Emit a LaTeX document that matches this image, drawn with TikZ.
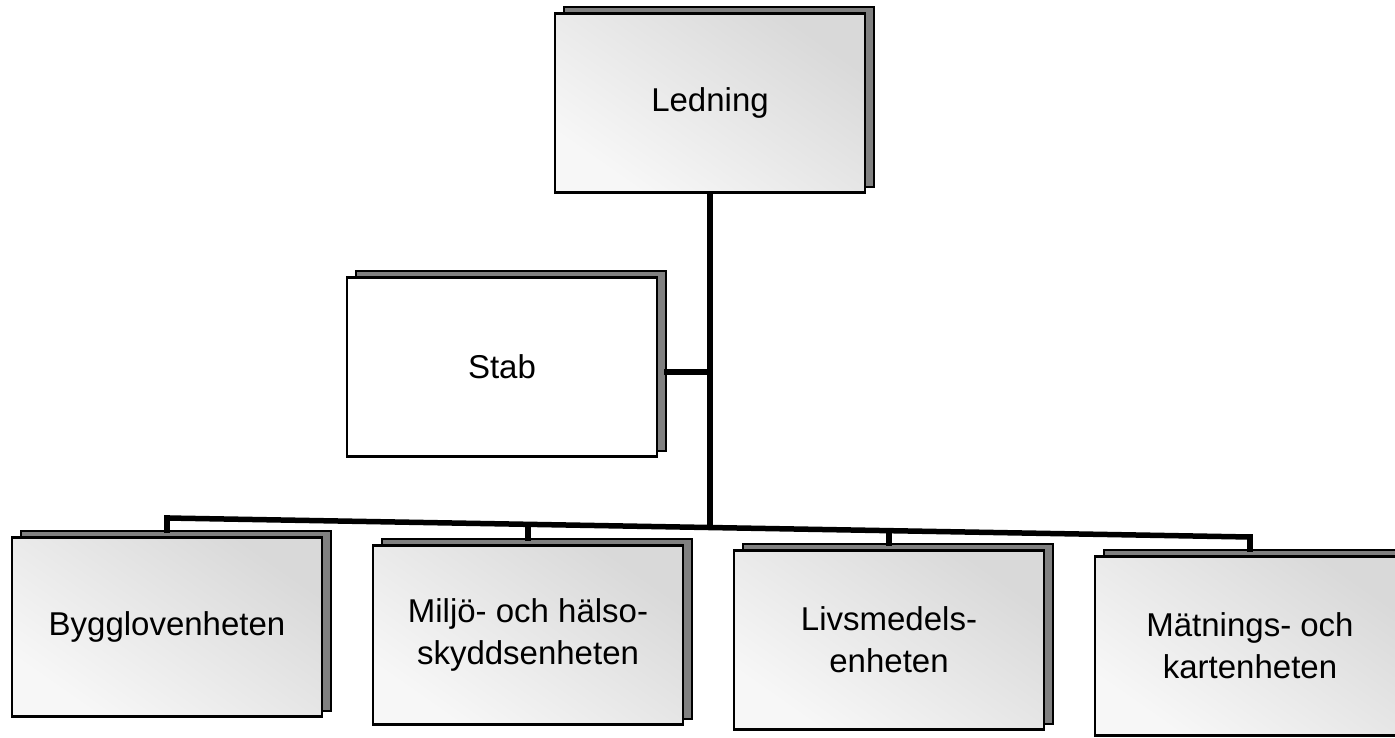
\documentclass[tikz,border=0pt]{standalone}
\usepackage{fontspec}
\setmainfont{Liberation Sans}
\usetikzlibrary{calc}
\tikzset{
  unitbox/.style={draw=black, line width=2.4pt, minimum width=310pt, minimum height=179pt,
    inner sep=0pt, align=center, font=\fontsize{33}{42}\selectfont},
  dotted fill/.style={top color=black!15, bottom color=black!3, shading angle=-35},
  backbox/.style={draw=black, line width=2pt, fill=black!50},
  wire/.style={line width=5.5pt, line cap=rect},
}
\newcommand{\unitnode}[5]{% name, x, y, text, fillstyle
  \fill[backbox] (#2-146,#3-96) rectangle (#2+164,#3+84);
  \node[unitbox, #5] (#1) at (#2,#3) {#4};
}
\begin{document}
\begin{tikzpicture}[x=1pt,y=-1pt]
\useasboundingbox (0,0) rectangle (1395,738);
\fill[white] (0,0) rectangle (1395,738);
% boxes
\unitnode{led}{710}{103}{Ledning}{dotted fill}
\unitnode{stab}{502}{367}{Stab}{fill=white}
\unitnode{bygg}{167}{627}{Bygglovenheten}{dotted fill}
\unitnode{milj}{528}{635}{Miljö- och hälso-\\skyddsenheten}{dotted fill}
\unitnode{livs}{889}{640}{Livsmedels-\\enheten}{dotted fill}
\unitnode{matn}{1250}{646}{Mätnings- och\\kartenheten}{dotted fill}
% bus coordinates
\coordinate (busL) at (167,518);
\coordinate (busT) at (710,527.5);
\coordinate (busM) at (528,524.4);
\coordinate (busV) at (889,530.7);
\coordinate (busR) at (1250,537);
\coordinate (stabJ) at (710,372);
% connectors
\draw[wire] (led.south) -- (busT);
\draw[wire] (stab.east) ++(9,5) coordinate (stabE) -- (stabJ);
\draw[wire] (busL) -- (busR);
\draw[wire] (busL) -- ($(bygg.north)+(0,-6)$);
\draw[wire] (busM) -- ($(milj.north)+(0,-6)$);
\draw[wire] (busV) -- ($(livs.north)+(0,-6)$);
\draw[wire] (busR) -- ($(matn.north)+(0,-6)$);
\end{tikzpicture}
\end{document}
